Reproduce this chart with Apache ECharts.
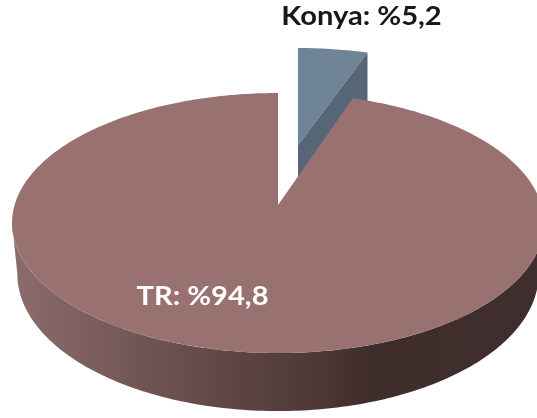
<!DOCTYPE html>
<html>
<head>
<meta charset="utf-8">
<title>Konya / TR</title>
<style>
    html, body { margin: 0; padding: 0; background: #fff; }
    #chart { width: 537px; height: 418px; }
</style>
<script src="https://cdn.jsdelivr.net/npm/echarts@6/dist/echarts.min.js"></script>
</head>
<body>
<div id="chart"></div>
<script>
//数据
var sliceNames = ['Konya', 'TR'];
var sliceValues = [5.2, 94.8];

var myChart = echarts.init(document.getElementById('chart'), null, { renderer: 'canvas' });

var persp = 0.1385;   // the back of the pie shrinks, front grows
var radiusX = 263.4;
var radiusY = 127.5;
var depth = 50;

// look of each slice: apex on screen, scale, colours
var sliceLook = {
    Konya: { ax: 298, ay: 145, sx: 0.93, sy: 0.866, top: '#6f8496', cut: '#566676',
        labelX: 361.5, labelY: 17, labelColor: '#15181c' },
    TR: { ax: 278, ay: 205, sx: 1, sy: 1, top: '#987170', cut: null,
        labelX: 202.5, labelY: 297, labelColor: '#fff' }
};

var wallFill = new echarts.graphic.LinearGradient(12, 0, 537, 0, [
    { offset: 0, color: '#8c6c6c' },
    { offset: 0.17, color: '#7a5c5c' },
    { offset: 0.36, color: '#654b4a' },
    { offset: 0.55, color: '#503b3a' },
    { offset: 0.68, color: '#3f2d2c' },
    { offset: 1, color: '#3f2e2d' }
], true);

// angle (radians, clockwise from top) -> screen point on the top face
function project(look, angle, lower) {
    var w = 1 + persp * Math.cos(angle);
    var x = look.sx * radiusX * Math.sin(angle) / w;
    var y = -look.sy * radiusY * Math.cos(angle) / w;
    if (lower) {
        x = x * 0.98;
        y = y + depth / w;
    }
    return [look.ax + x, look.ay + y];
}

function arcPoints(look, from, to, lower) {
    var pts = [];
    var steps = Math.max(2, Math.ceil(Math.abs(to - from) * 60));
    for (var i = 0; i <= steps; i++) {
        pts.push(project(look, from + (to - from) * i / steps, lower));
    }
    return pts;
}

function renderSlice(params, api) {
    var value = api.value(0);
    var name = sliceNames[params.dataIndex];
    var look = sliceLook[name];
    var total = sliceValues.reduce(function (a, b) { return a + b; }, 0);
    var before = 0;
    for (var i = 0; i < params.dataIndex; i++) {
        before += sliceValues[i];
    }
    var start = before / total * Math.PI * 2;
    var end = (before + value) / total * Math.PI * 2;
    var apex = [look.ax, look.ay];
    var children = [];

    // outer wall, only the part turned to the viewer
    var sideA = Math.acos(-persp);
    var sideB = Math.PI * 2 - sideA;
    var wallFrom = Math.max(start, sideA);
    var wallTo = Math.min(end, sideB);
    if (wallTo > wallFrom) {
        var wall = arcPoints(look, wallFrom, wallTo, false)
            .concat(arcPoints(look, wallTo, wallFrom, true));
        children.push({
            type: 'polygon',
            shape: { points: wall },
            style: { fill: wallFill }
        });
    }

    // cut face seen through the gap
    if (look.cut) {
        var outer = project(look, end, false);
        children.push({
            type: 'polygon',
            shape: { points: [apex, outer, [outer[0], outer[1] + depth], [apex[0], apex[1] + depth]] },
            style: { fill: look.cut }
        });
    }

    // top face
    children.push({
        type: 'polygon',
        shape: { points: [apex].concat(arcPoints(look, start, end, false)) },
        style: { fill: look.top }
    });

    children.push({
        type: 'text',
        z2: 10,
        x: look.labelX,
        y: look.labelY,
        scaleX: 1.12,
        style: {
            text: name + ': %' + value.toFixed(1).replace('.', ','),
            fill: look.labelColor,
            font: 'bold 26px Lato, "Noto Sans", sans-serif',
            align: 'center',
            verticalAlign: 'middle'
        }
    });

    return { type: 'group', children: children };
}

var option = {
    backgroundColor: '#fff',
    animation: false,
    series: [
        {
            type: 'custom',
            coordinateSystem: 'none',
            renderItem: renderSlice,
            data: sliceValues.map(function (v) { return [v]; })
        }
    ]
};
myChart.setOption(option);
</script>
</body>
</html>
